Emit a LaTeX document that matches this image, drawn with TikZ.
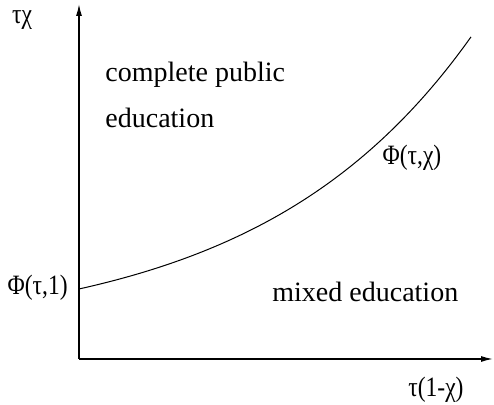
\documentclass[tikz,border=0pt]{standalone}
\usepackage{fontspec}
\setmainfont{Liberation Serif}
\usepackage{tikz}
\usetikzlibrary{arrows.meta}
\newcommand{\sqz}[1]{\scalebox{0.84}[1]{#1}}
\tikzset{
  axis/.style  = {-{Latex[length=6pt,width=3pt]}, line width=0.7pt},
  curve/.style = {line width=0.5pt, smooth},
  lbl/.style   = {font=\fontsize{14}{16}\selectfont, inner sep=0pt},
  reg/.style   = {lbl, anchor=west},
}
\begin{document}
\begin{tikzpicture}[x=0.5pt,y=0.5pt]
\useasboundingbox (0,0) rectangle (494,405);

\coordinate (o) at (79,46);
\coordinate (ytop) at (79,401);
\coordinate (xend) at (493,46);

\draw[axis] (o) -- (ytop);
\draw[axis] (o) -- (xend);

% boundary between the two regions
\draw[curve] plot[domain=0:392, samples=60, variable=\t]
     ({79+\t}, {116+47.47*(exp(0.0047*\t)-1)});

\node[lbl] (ylab) at (22,385) {\sqz{τχ}};
\node[lbl] (xlab) at (436,15) {\sqz{τ(1-χ)}};
\node[lbl, anchor=east] (phi1) at (68,117) {\sqz{Φ(τ,1)}};
\node[lbl] (phic) at (412,247) {\sqz{Φ(τ,χ)}};

\node[reg] (pub1) at (105,330) {complete public};
\node[reg] (pub2) at (105,287) {education};
\node[reg] (mix) at (272,113) {mixed education};
\end{tikzpicture}
\end{document}
